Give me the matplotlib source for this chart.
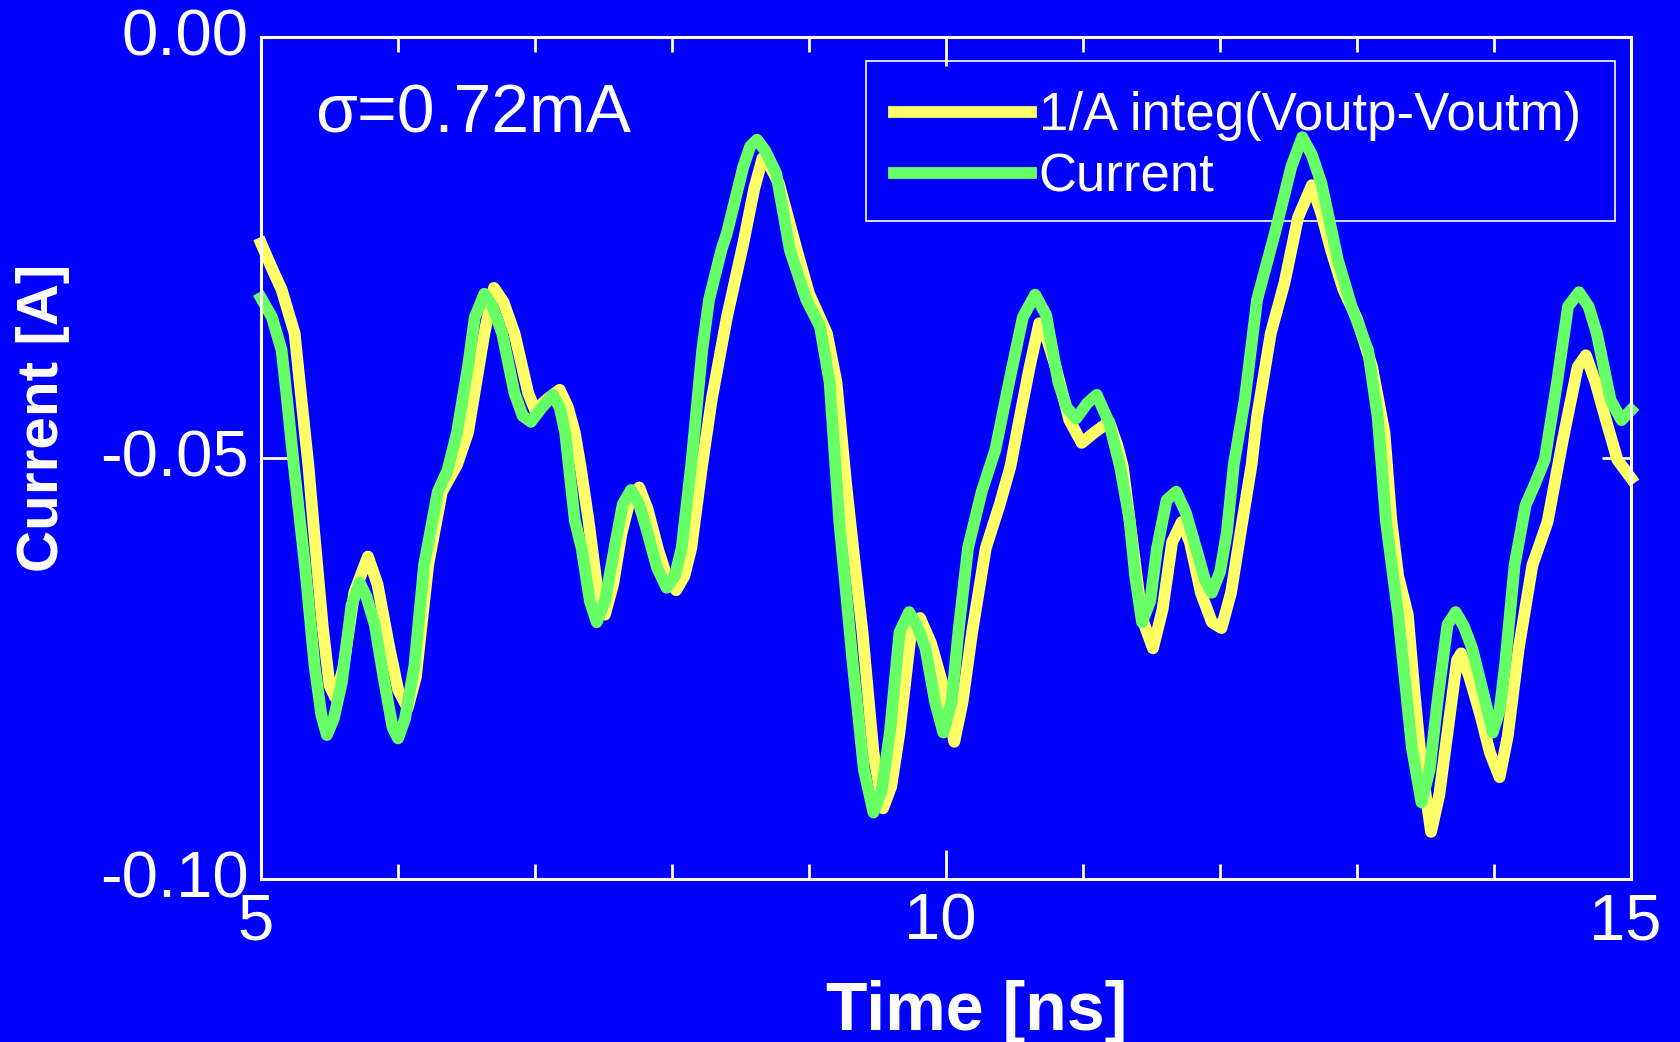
import numpy as np
import matplotlib.pyplot as plt
import matplotlib.transforms as mtransforms
from matplotlib.patches import Rectangle

# 1/A integ(Voutp-Voutm)  (yellow)
t_integ = [5.00, 5.08, 5.15, 5.245, 5.32, 5.345, 5.38, 5.45, 5.50, 5.54, 5.60, 5.68, 5.78, 5.85, 5.93,
           6.00, 6.07, 6.13, 6.22, 6.32, 6.43, 6.51, 6.63, 6.70, 6.77, 6.85, 6.95, 7.00, 7.09, 7.18,
           7.24, 7.29, 7.33, 7.39, 7.45, 7.51, 7.57, 7.63, 7.70, 7.76, 7.82, 7.90, 7.97, 8.03, 8.09,
           8.14, 8.22, 8.29, 8.40, 8.52, 8.60, 8.66, 8.72, 8.78, 8.91, 9.00, 9.13, 9.20, 9.27, 9.33,
           9.39, 9.47, 9.54, 9.60, 9.66, 9.75, 9.81, 9.89, 9.97, 10.06, 10.12, 10.19, 10.29, 10.39,
           10.47, 10.54, 10.61, 10.68, 10.74, 10.80, 10.90, 10.99, 11.08, 11.19, 11.25, 11.29, 11.36,
           11.43, 11.51, 11.58, 11.65, 11.72, 11.78, 11.86, 11.94, 12.01, 12.08, 12.15, 12.23, 12.27,
           12.37, 12.47, 12.57, 12.67, 12.74, 12.81, 12.90, 13.00, 13.11, 13.20, 13.25, 13.30, 13.37,
           13.42, 13.47, 13.54, 13.60, 13.66, 13.73, 13.76, 13.82, 13.90, 13.97, 14.04, 14.10, 14.18,
           14.28, 14.39, 14.50, 14.61, 14.67, 14.74, 14.81, 14.90, 15.00]
i_integ = [-0.0245, -0.0275, -0.0300, -0.0352, -0.0470, -0.0508, -0.0574, -0.0700, -0.0770, -0.0784,
           -0.0750, -0.0660, -0.0617, -0.0650, -0.0720, -0.0775, -0.0797, -0.0760, -0.0627, -0.0540,
           -0.0508, -0.0470, -0.0352, -0.0298, -0.0315, -0.0352, -0.0423, -0.0443, -0.0430, -0.0419,
           -0.0440, -0.0470, -0.0508, -0.0574, -0.0650, -0.0686, -0.0650, -0.0590, -0.0545, -0.0535,
           -0.0560, -0.0610, -0.0645, -0.0657, -0.0640, -0.0607, -0.0508, -0.0430, -0.0333, -0.0245,
           -0.0180, -0.0144, -0.0155, -0.0174, -0.0253, -0.0305, -0.0352, -0.0410, -0.0530, -0.0620,
           -0.0707, -0.0850, -0.0916, -0.0890, -0.0826, -0.0698, -0.0690, -0.0720, -0.0766, -0.0837,
           -0.0790, -0.0707, -0.0607, -0.0556, -0.0510, -0.0450, -0.0392, -0.0340, -0.0360, -0.0392,
           -0.0455, -0.0482, -0.0470, -0.0457, -0.0485, -0.0510, -0.0600, -0.0690, -0.0726, -0.0680,
           -0.0600, -0.0576, -0.0600, -0.0660, -0.0695, -0.0702, -0.0660, -0.0588, -0.0508, -0.0451,
           -0.0352, -0.0292, -0.0214, -0.0176, -0.0210, -0.0253, -0.0300, -0.0335, -0.0392, -0.0470,
           -0.0574, -0.0640, -0.0686, -0.0780, -0.0865, -0.0944, -0.0900, -0.0826, -0.0740, -0.0732,
           -0.0760, -0.0805, -0.0850, -0.0879, -0.0830, -0.0726, -0.0627, -0.0576, -0.0480, -0.0392,
           -0.0378, -0.0410, -0.0451, -0.0502, -0.0524]

# Current  (green)
t_curr = [5.00, 5.08, 5.15, 5.19, 5.24, 5.32, 5.39, 5.44, 5.48, 5.53, 5.59, 5.66, 5.72, 5.77, 5.83,
          5.90, 5.96, 6.00, 6.05, 6.12, 6.19, 6.29, 6.36, 6.43, 6.51, 6.56, 6.63, 6.69, 6.76, 6.85,
          6.91, 6.97, 7.05, 7.13, 7.18, 7.22, 7.29, 7.34, 7.40, 7.45, 7.51, 7.58, 7.64, 7.70, 7.76,
          7.82, 7.89, 7.96, 8.02, 8.07, 8.14, 8.22, 8.27, 8.36, 8.40, 8.52, 8.57, 8.62, 8.68, 8.76,
          8.86, 8.98, 9.08, 9.15, 9.22, 9.32, 9.40, 9.47, 9.53, 9.59, 9.66, 9.73, 9.79, 9.85, 9.92,
          9.98, 10.04, 10.09, 10.16, 10.26, 10.36, 10.46, 10.56, 10.65, 10.73, 10.82, 10.88, 10.95,
          11.03, 11.10, 11.19, 11.27, 11.34, 11.38, 11.43, 11.49, 11.54, 11.61, 11.68, 11.75, 11.83,
          11.89, 11.94, 12.00, 12.05, 12.10, 12.18, 12.27, 12.40, 12.52, 12.60, 12.67, 12.74, 12.86,
          12.96, 13.08, 13.15, 13.18, 13.21, 13.30, 13.40, 13.47, 13.53, 13.59, 13.66, 13.72, 13.78,
          13.84, 13.93, 13.99, 14.04, 14.08, 14.15, 14.23, 14.30, 14.37, 14.46, 14.54, 14.62, 14.69,
          14.75, 14.85, 14.93, 15.00]
i_curr = [-0.0310, -0.0333, -0.0372, -0.0431, -0.0510, -0.0627, -0.0746, -0.0805, -0.0829, -0.0810,
          -0.0766, -0.0675, -0.0648, -0.0665, -0.0698, -0.0766, -0.0820, -0.0833, -0.0810, -0.0746,
          -0.0627, -0.0540, -0.0515, -0.0470, -0.0392, -0.0333, -0.0305, -0.0320, -0.0352, -0.0423,
          -0.0450, -0.0457, -0.0440, -0.0425, -0.0440, -0.0470, -0.0574, -0.0607, -0.0670, -0.0695,
          -0.0670, -0.0607, -0.0555, -0.0538, -0.0555, -0.0588, -0.0630, -0.0654, -0.0640, -0.0607,
          -0.0508, -0.0372, -0.0312, -0.0253, -0.0233, -0.0154, -0.0130, -0.0122, -0.0135, -0.0162,
          -0.0253, -0.0312, -0.0344, -0.0410, -0.0574, -0.0746, -0.0870, -0.0921, -0.0895, -0.0826,
          -0.0707, -0.0683, -0.0700, -0.0726, -0.0790, -0.0826, -0.0790, -0.0707, -0.0607, -0.0540,
          -0.0490, -0.0410, -0.0333, -0.0306, -0.0330, -0.0410, -0.0440, -0.0453, -0.0435, -0.0425,
          -0.0458, -0.0510, -0.0574, -0.0640, -0.0695, -0.0670, -0.0607, -0.0550, -0.0540, -0.0565,
          -0.0610, -0.0645, -0.0660, -0.0635, -0.0588, -0.0508, -0.0431, -0.0312, -0.0233, -0.0154,
          -0.0119, -0.0140, -0.0174, -0.0265, -0.0320, -0.0372, -0.0451, -0.0510, -0.0574, -0.0686,
          -0.0844, -0.0909, -0.0870, -0.0785, -0.0698, -0.0683, -0.0700, -0.0726, -0.0785, -0.0826,
          -0.0800, -0.0746, -0.0627, -0.0556, -0.0530, -0.0502, -0.0410, -0.0320, -0.0303, -0.0320,
          -0.0352, -0.0431, -0.0455, -0.0443]

x_ticks = [5, 10, 15]
x_ticklabels = ["5", "10", "15"]
y_ticks = [-0.10, -0.05, 0.00]
y_ticklabels = ["-0.10", "-0.05", "0.00"]

blue = "#0000ff"
yellow = "#ffff66"
green = "#66ff66"
font = "Liberation Sans"

fig = plt.figure(figsize=(16.81, 10.42), dpi=100, facecolor=blue)
ax = fig.add_axes([0.1553, 0.1564, 0.8150, 0.8081], facecolor=blue)

ax.plot(t_integ, i_integ, color=yellow, lw=8.5, label="1/A integ(Voutp-Voutm)",
        clip_on=False, solid_joinstyle="round", zorder=3)
ax.plot(t_curr, i_curr, color=green, lw=8.5, label="Current",
        clip_on=False, solid_joinstyle="round", zorder=3)

ax.set_xlim(5, 15)
ax.set_ylim(-0.10, 0.00)

for s in ax.spines.values():
    s.set_color("white")
    s.set_linewidth(2.2)
    s.set_zorder(4)

ax.set_xticks(x_ticks)
ax.set_xticklabels(x_ticklabels)
ax.set_xticks(np.arange(6, 15), minor=True)
ax.set_yticks(y_ticks)
ax.set_yticklabels(y_ticklabels)
ax.tick_params(which="both", direction="in", colors="white", top=True, right=True, width=2)
ax.tick_params(which="major", length=21)
ax.tick_params(which="minor", length=10.5)
ax.tick_params(axis="x", which="major", pad=10)
ax.tick_params(axis="y", which="major", pad=9)

# labels sit a little left / up of their ticks in the original
dx = mtransforms.ScaledTranslation(-6 / 100, 0, fig.dpi_scale_trans)
dy = mtransforms.ScaledTranslation(0, 5 / 100, fig.dpi_scale_trans)
for lab in ax.get_xticklabels():
    lab.set_transform(lab.get_transform() + dx)
for lab in ax.get_yticklabels():
    lab.set_transform(lab.get_transform() + dy)
for lab in ax.get_xticklabels() + ax.get_yticklabels():
    lab.set_fontfamily(font)
    lab.set_fontsize(47)
    lab.set_color("white")

ax.set_xlabel("Time [ns]", fontsize=49, fontweight="bold", color="white", fontfamily=font)
ax.xaxis.label.set_va("baseline")
ax.xaxis.set_label_coords(0.522, -0.179)
ax.set_ylabel("Current [A]", fontsize=42, fontweight="bold", color="white", fontfamily=font)
ax.yaxis.label.set(va="center", ha="center")
ax.yaxis.set_label_coords(-0.159, 0.5475)

ax.text(0.0394, 0.886, "σ=0.72mA", transform=ax.transAxes, fontsize=49, color="white",
        fontfamily=font, va="baseline", ha="left")

# legend frame drawn separately so the curves pass over it
ax.add_patch(Rectangle((0.4416, 0.7815), 0.5467, 0.19, transform=ax.transAxes, fill=False,
                       ec="white", lw=1.2, zorder=1, clip_on=False))
leg = ax.legend(loc="upper left", bbox_to_anchor=(0.4617, 0.9356), borderaxespad=0, borderpad=0,
                prop={"family": font, "size": 38}, frameon=False,
                handlelength=2.6, handletextpad=0.15, labelspacing=0.22)
leg.set_zorder(2)
for txt in leg.get_texts():
    txt.set_color("white")

fig.savefig("out.png", dpi=100, facecolor=blue)
